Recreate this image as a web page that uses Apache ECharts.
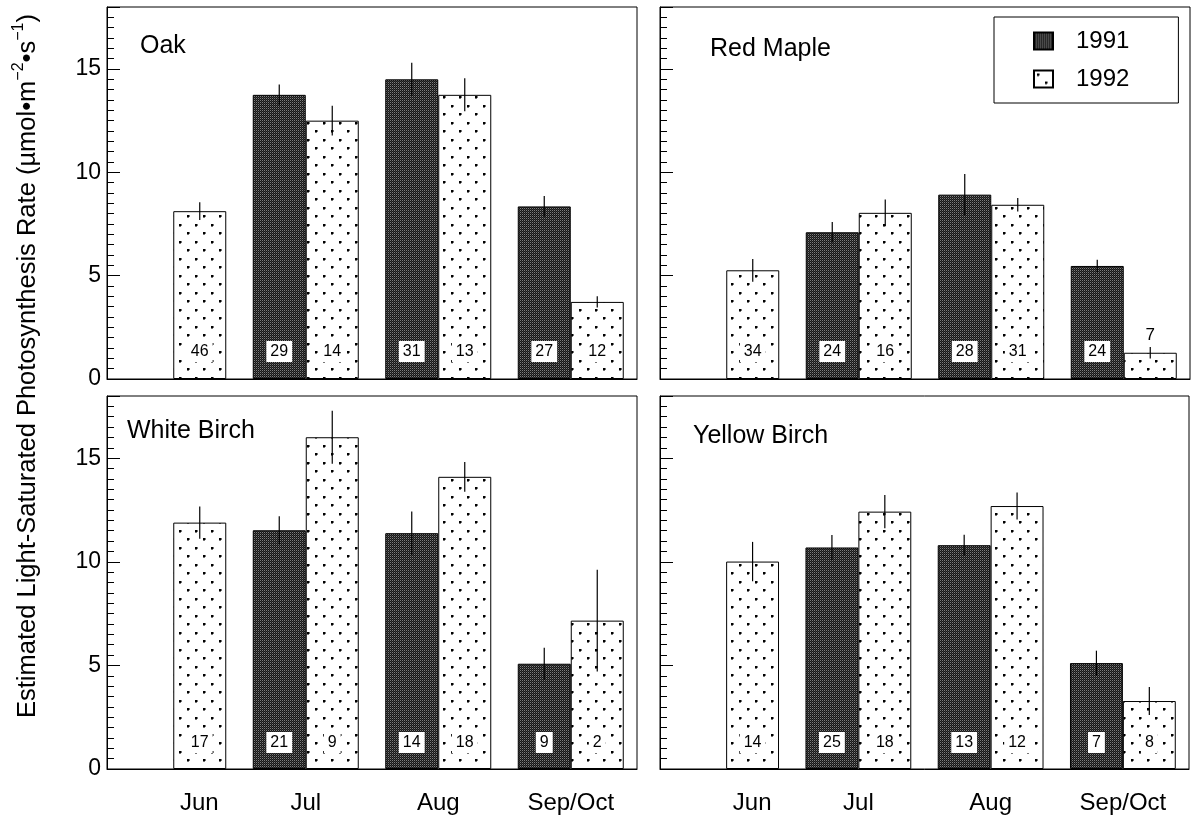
<!DOCTYPE html>
<html><head><meta charset="utf-8">
<script src="https://cdn.jsdelivr.net/npm/echarts@6/dist/echarts.min.js"></script>
<style>html,body{margin:0;padding:0;background:#fff}#c{width:1192px;height:819px}</style>
</head><body><div id="c"></div>
<script>
const months = ['Jun', 'Jul', 'Aug', 'Sep/Oct'];
const speciesNames = ['Oak', 'Red Maple', 'White Birch', 'Yellow Birch'];
const years = ['1991', '1992'];
const yTickValues = [0, 5, 10, 15];

// Oak
const oak1991 = [null, 13.75, 14.5, 8.35];
const oak1991Err = [null, 0.5, 0.8, 0.5];
const oak1992 = [8.12, 12.5, 13.75, 3.73];
const oak1992Err = [0.43, 0.72, 0.8, 0.27];
const oakN1991 = [null, 29, 31, 27];
const oakN1992 = [46, 14, 13, 12];
// Red Maple
const rm1991 = [null, 7.1, 8.92, 5.47];
const rm1991Err = [null, 0.5, 1.0, 0.3];
const rm1992 = [5.26, 8.04, 8.43, 1.27];
const rm1992Err = [0.55, 0.65, 0.33, 0.28];
const rmN1991 = [null, 24, 28, 24];
const rmN1992 = [34, 16, 31, 7];
// White Birch
const wb1991 = [null, 11.52, 11.38, 5.08];
const wb1991Err = [null, 0.68, 1.05, 0.77];
const wb1992 = [11.89, 16.01, 14.1, 7.16];
const wb1992Err = [0.78, 1.28, 0.72, 2.45];
const wbN1991 = [null, 21, 14, 9];
const wbN1992 = [17, 9, 18, 2];
// Yellow Birch
const yb1991 = [null, 10.69, 10.8, 5.11];
const yb1991Err = [null, 0.6, 0.5, 0.6];
const yb1992 = [10.01, 12.42, 12.69, 3.28];
const yb1992Err = [0.95, 0.8, 0.65, 0.68];
const ybN1991 = [null, 25, 13, 7];
const ybN1992 = [14, 18, 12, 8];

const panels = [
  {v1: oak1991, e1: oak1991Err, v2: oak1992, e2: oak1992Err, n1: oakN1991, n2: oakN1992},
  {v1: rm1991, e1: rm1991Err, v2: rm1992, e2: rm1992Err, n1: rmN1991, n2: rmN1992},
  {v1: wb1991, e1: wb1991Err, v2: wb1992, e2: wb1992Err, n1: wbN1991, n2: wbN1992},
  {v1: yb1991, e1: yb1991Err, v2: yb1992, e2: yb1992Err, n1: ybN1991, n2: ybN1992}
];

const FONT = '"Liberation Sans", Arial, Helvetica, sans-serif';

function darkPattern() {
  const c = document.createElement('canvas'); c.width = 2; c.height = 2;
  const g = c.getContext('2d');
  g.fillStyle = '#161616'; g.fillRect(0, 0, 2, 2);
  g.fillStyle = '#7e7e7e'; g.fillRect(0, 0, 1, 1);
  g.fillStyle = '#3a3a3a'; g.fillRect(1, 1, 1, 1);
  return c;
}
function dotPattern() {
  const c = document.createElement('canvas'); c.width = 16; c.height = 17;
  const g = c.getContext('2d');
  g.fillStyle = '#fff'; g.fillRect(0, 0, 16, 17);
  g.fillStyle = '#000';
  g.fillRect(3, 3, 2, 2); g.fillRect(11, 11, 2, 2);
  g.fillStyle = '#777';
  g.fillRect(5, 3, 1, 2); g.fillRect(3, 5, 2, 1);
  g.fillRect(13, 11, 1, 2); g.fillRect(11, 13, 2, 1);
  return c;
}
const darkFill = {image: darkPattern(), repeat: 'repeat'};
const dotFill = {image: dotPattern(), repeat: 'repeat'};

const gridBoxes = [
  {left: 107, top: 7, width: 530, height: 372},
  {left: 660, top: 7, width: 530, height: 372},
  {left: 107, top: 396, width: 530, height: 373},
  {left: 660, top: 396, width: 529, height: 373}
];

const grids = gridBoxes.map(b => Object.assign({show: true, borderColor: '#000', borderWidth: 1, backgroundColor: 'transparent'}, b));

const xAxes = gridBoxes.map((b, i) => ({
  type: 'category', gridIndex: i, data: months, boundaryGap: true,
  axisTick: {show: false},
  axisLine: {lineStyle: {color: '#000', width: 1}},
  axisLabel: {
    show: i >= 2, margin: 22, color: '#000', fontSize: 24, fontFamily: FONT,
    formatter: v => v === 'Jun' ? '{j|Jun}' : v,
    rich: {j: {padding: [0, 0, 0, 52], fontSize: 24, fontFamily: FONT, color: '#000'}}
  }
}));

const yAxes = gridBoxes.map((b, i) => ({
  type: 'value', gridIndex: i, min: 0, max: 18, interval: 5,
  splitLine: {show: false},
  axisLine: {show: true, lineStyle: {color: '#000', width: 1}},
  axisTick: {show: true, inside: true, length: 13, lineStyle: {color: '#000'}},
  minorTick: {show: true, splitNumber: 10, length: 7, lineStyle: {color: '#000'}},
  axisLabel: {show: i % 2 === 0, showMaxLabel: false, margin: 6, color: '#000', fontSize: 23, fontFamily: FONT}
}));

function labelCfg(dist) {
  return {
    show: true, position: 'insideBottom', distance: dist, color: '#000',
    fontSize: 16, fontFamily: FONT, backgroundColor: '#fff', padding: [3, 4, 2, 4]
  };
}

function errSeries(i, vals, errs, side) {
  return {
    type: 'custom', name: 'err' + i + side, xAxisIndex: i, yAxisIndex: i, z: 5, silent: true,
    data: vals.map((v, k) => v == null ? null : [k, v, errs[k]]).filter(d => d),
    renderItem: (params, api) => {
      const k = api.value(0), v = api.value(1), e = api.value(2);
      const band = api.size([1, 0])[0];
      const x = api.coord([k, v])[0] + side * 0.2 * band;
      const y1 = api.coord([k, v + e])[1];
      const y2 = api.coord([k, v - e])[1];
      return {type: 'line', shape: {x1: x, y1: y1, x2: x, y2: y2}, style: {stroke: '#000', lineWidth: 1.2}};
    }
  };
}

const series = [];
panels.forEach((p, i) => {
  const dist = i < 2 ? 17 : 16;
  series.push({
    type: 'bar', name: years[0], xAxisIndex: i, yAxisIndex: i,
    barGap: '0%', barCategoryGap: '20%',
    itemStyle: {color: darkFill, borderColor: '#000', borderWidth: 1},
    label: Object.assign(labelCfg(dist), {formatter: q => String(p.n1[q.dataIndex])}),
    data: p.v1.map(v => v == null ? '-' : v)
  });
  series.push({
    type: 'bar', name: years[1], xAxisIndex: i, yAxisIndex: i,
    barGap: '0%', barCategoryGap: '20%',
    itemStyle: {color: dotFill, borderColor: '#000', borderWidth: 1},
    label: Object.assign(labelCfg(dist), {formatter: q => String(p.n2[q.dataIndex])}),
    data: p.v2.map(v => v < 2
      ? {value: v, label: {position: 'top', distance: 9, backgroundColor: 'transparent', padding: 0, fontSize: 17}}
      : v)
  });
});
panels.forEach((p, i) => {
  series.push(errSeries(i, p.v1, p.e1, -1));
  series.push(errSeries(i, p.v2, p.e2, 1));
});

const speciesPos = [[140, 34], [710, 37], [127, 419], [693, 424]];
const graphics = speciesNames.map((s, i) => ({
  type: 'text', x: speciesPos[i][0], y: speciesPos[i][1], z: 10,
  style: {text: s, fontSize: 25, fontFamily: FONT, fill: '#000', verticalAlign: 'top', align: 'left'}
}));
graphics.push({
  type: 'text', x: 26, y: 366, rotation: Math.PI / 2, z: 10,
  style: {
    text: '{m|Estimated Light-Saturated Photosynthesis Rate (µmol•m}{s|−2}{m|•s}{s|−1}{m|)}',
    align: 'center', verticalAlign: 'middle', fill: '#000',
    rich: {
      m: {fontSize: 25.5, fontFamily: FONT, fill: '#000', verticalAlign: 'bottom', lineHeight: 30},
      s: {fontSize: 16, fontFamily: FONT, fill: '#000', verticalAlign: 'top', lineHeight: 30}
    }
  }
});

const chart = echarts.init(document.getElementById('c'), null, {renderer: 'canvas'});
chart.setOption({
  animation: false,
  backgroundColor: '#fff',
  grid: grids,
  xAxis: xAxes,
  yAxis: yAxes,
  legend: {
    data: years, orient: 'vertical', left: 994, top: 17,
    itemWidth: 19, itemHeight: 17, itemGap: 14,
    padding: [12, 49, 12, 39], backgroundColor: '#fff', borderColor: '#000', borderWidth: 1,
    textStyle: {fontSize: 24, color: '#000', fontFamily: FONT, padding: [0, 0, 0, 18]},
    selectedMode: false, icon: 'rect'
  },
  series: series,
  graphic: graphics
});
</script>
</body></html>
